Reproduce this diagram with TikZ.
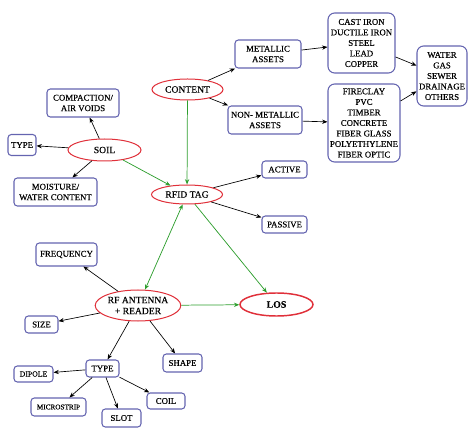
\documentclass[tikz,border=0pt]{standalone}
\usepackage{fontspec}
\setmainfont{Liberation Serif}[FakeBold=0.35]
\newfontfamily\darkfont{Liberation Serif}[FakeBold=0.35]
\usetikzlibrary{arrows.meta,shapes.geometric}
\definecolor{boxc}{HTML}{6464B0}
\definecolor{ellc}{HTML}{E0303A}
\definecolor{grn}{HTML}{2E9E2E}
\tikzset{
  bx/.style={draw=boxc,line width=0.8pt,rounded corners=2.5pt,fill=white,inner sep=0pt,align=center,
    font=\darkfont\fontsize{6.6}{7.9}\selectfont},
  big/.style={rounded corners=5pt},
  el/.style={draw=ellc,line width=0.75pt,ellipse,fill=white,inner sep=0pt,align=center,
    font=\darkfont\fontsize{7.2}{8.2}\selectfont},
  sz/.style 2 args={minimum width=#1*0.75pt,minimum height=#2*0.75pt},
  blk/.style={draw=black,line width=0.5pt,-{Stealth[length=4pt,width=3.2pt]}},
  gr/.style={draw=grn,line width=0.55pt,-{Stealth[length=4pt,width=3.2pt]}},
  grd/.style={draw=grn,line width=0.55pt,{Stealth[length=4pt,width=3.2pt]}-{Stealth[length=4pt,width=3.2pt]}},
}
\begin{document}
\begin{tikzpicture}[x=0.75pt,y=-0.75pt]
\useasboundingbox (0,0) rectangle (474,434);
% ellipses
\node[el,sz={71}{21}] (content) at (187.5,89.5) {CONTENT};
\node[el,sz={73}{22}] (soil) at (104.5,150) {SOIL};
\node[el,sz={71}{19}] (rfid) at (187,194.5) {RFID TAG};
\node[el,sz={73}{23},line width=1.1pt,font=\fontsize{7.4}{8.2}\selectfont\bfseries] (los) at (276.5,304.5) {LOS};
\node[el,sz={72}{31}] (rf) at (138,305.5) {RF ANTENNA\\+ READER};
% boxes
\node[bx,sz={72}{28}] (comp) at (83,103) {COMPACTION/\\AIR VOIDS};
\node[bx,sz={28}{21}] (stype) at (22,145) {TYPE};
\node[bx,sz={83}{28}] (moist) at (55.5,192) {MOISTURE/\\WATER CONTENT};
\node[bx,sz={66}{28}] (metal) at (268,54) {METALLIC\\ASSETS};
\node[bx,big,sz={67}{60}] (cast) at (361.5,43) {CAST IRON\\DUCTILE IRON\\STEEL\\LEAD\\COPPER};
\node[bx,big,sz={50}{60}] (water) at (442,76) {WATER\\GAS\\SEWER\\DRAINAGE\\OTHERS};
\node[bx,sz={74}{28}] (nonmet) at (265,120) {NON- METALLIC\\ASSETS};
\node[bx,big,sz={72}{78}] (fire) at (364,123) {FIRECLAY\\PVC\\TIMBER\\CONCRETE\\FIBER GLASS\\POLYETHYLENE\\FIBER OPTIC};
\node[bx,sz={45}{17}] (active) at (284.5,169.5) {ACTIVE};
\node[bx,sz={45}{17}] (passive) at (284.5,224.5) {PASSIVE};
\node[bx,sz={61}{23}] (freq) at (66.5,254.5) {FREQUENCY};
\node[bx,sz={33}{17}] (size) at (41.5,324.5) {SIZE};
\node[bx,sz={39}{18}] (shape) at (182.5,363) {SHAPE};
\node[bx,sz={33}{17}] (atype) at (102.5,368.5) {TYPE};
\node[bx,sz={39}{16},font=\darkfont\fontsize{5.8}{7}\selectfont] (dipole) at (33.5,374) {DIPOLE};
\node[bx,sz={55}{18},font=\darkfont\fontsize{5.4}{7}\selectfont] (micro) at (58.5,407) {MICROSTRIP};
\node[bx,sz={39}{18}] (slot) at (121.5,418) {SLOT};
\node[bx,sz={38}{16}] (coil) at (166,401) {COIL};
% connectors
\draw[blk] (content) -- (metal);
\draw[blk] (content) -- (nonmet);
\draw[gr] (content) -- (rfid);
\draw[blk] (metal) -- (cast);
\draw[blk] (nonmet) -- (fire);
\draw[blk] (cast) -- (water);
\draw[blk] (fire) -- (water);
\draw[blk] (soil) -- (comp);
\draw[blk] (soil) -- (stype);
\draw[blk] (soil) -- (moist);
\draw[gr] (soil) -- (rfid);
\draw[blk] (rfid) -- (active);
\draw[blk] (rfid) -- (passive);
\draw[gr] (rfid) -- (los);
\draw[grd] (rfid) -- (rf);
\draw[gr] (rf) -- (los);
\draw[blk] (rf) -- (freq);
\draw[blk] (rf) -- (size);
\draw[blk] (rf) -- (atype);
\draw[blk] (rf) -- (shape);
\draw[blk] (atype) -- (dipole);
\draw[blk] (atype) -- (micro);
\draw[blk] (atype) -- (slot);
\draw[blk] (atype) -- (coil);
\end{tikzpicture}
\end{document}
